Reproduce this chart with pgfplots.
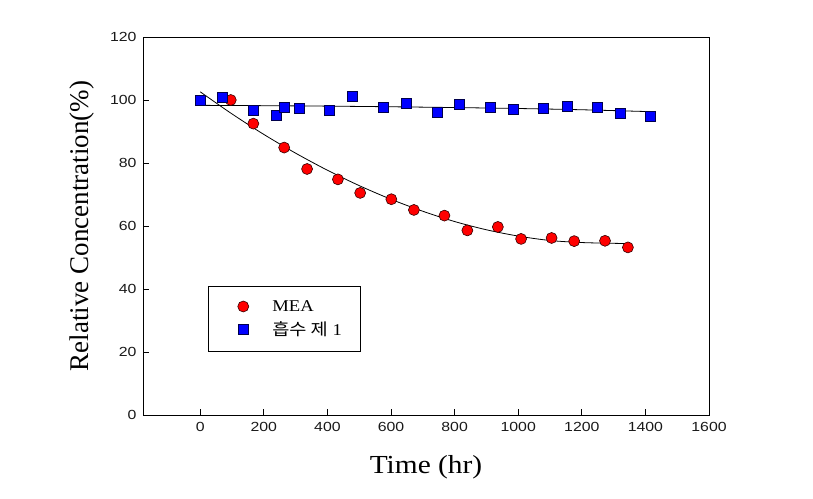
\documentclass[border=0pt]{standalone}
\usepackage{fontspec}
\setmainfont[FakeStretch=1.13]{Liberation Serif}
\newfontfamily\serifplain{Liberation Serif}
\newfontfamily\arial[FakeStretch=1.2]{Liberation Sans}
\newfontfamily\kr[FakeStretch=1.13]{Noto Sans CJK KR}
\usepackage{pgfplots}
\pgfplotsset{compat=1.18}
\pgfplotsset{myleg/.style={legend image code/.code={\path[draw=none] (0pt,0pt) -- (30pt,0pt); \draw[##1] plot coordinates {(19pt,0pt)};}}}
\begin{document}
\begin{tikzpicture}[x=1pt,y=1pt]
\path[use as bounding box] (0,0) rectangle (813,498);
\begin{axis}[
  at={(143pt,83pt)}, anchor=south west,
  scale only axis, width=566pt, height=378pt,
  xmin=-180, xmax=1600, ymin=0, ymax=120,
  xtick={0,200,...,1600}, ytick={0,20,...,120},
  tick align=inside, xtick pos=bottom, ytick pos=left,
  major tick length=6pt,
  axis line style={line width=0.9pt},
  tick style={black, line width=0.8pt},
  /pgf/number format/assume math mode=true,
  /pgf/number format/set thousands separator={},
  tick label style={font=\arial\fontsize{13.2}{13.2}\selectfont, color=black!90},
  xticklabel style={yshift=-4pt},
  yticklabel style={xshift=-3pt},
  xlabel={Time (hr)},
  ylabel={Relative Concentration(\%)},
  xlabel style={at={(axis description cs:0.5,-0.1376)}, anchor=center, font=\fontsize{26}{26}\selectfont},
  ylabel style={at={(axis description cs:-0.1078,0.5)}, anchor=center, font=\serifplain\fontsize{27}{27}\selectfont},
  legend style={at={(axis description cs:0.1148,0.3413)}, anchor=north west, draw=black, line width=0.6pt,
    font=\fontsize{16.5}{16.5}\selectfont, inner xsep=16pt, inner ysep=12pt, row sep=5pt, fill=white,
    /tikz/every odd column/.append style={column sep=16pt}},
  legend cell align=left,
]
\addplot[only marks, mark=*, mark size=5.5pt, mark options={fill=red, draw=black!80!red, line width=0.6pt}, myleg] coordinates {
(96,100.0) (167,92.5) (264,84.9) (336,78.1) (433,74.8) (503,70.5) (601,68.5) (672,65.1)
(768,63.3) (840,58.6) (936,59.7) (1009,55.9) (1105,56.2) (1176,55.2) (1273,55.3) (1345,53.2)
};
\addlegendentry{MEA}
\addplot[only marks, mark=square*, mark size=5pt, mark options={fill=blue, draw=black!70!blue, line width=0.6pt}, myleg] coordinates {
(0,100.0) (70,100.9) (167,96.7) (238,95.1) (264,97.8) (313,97.5) (407,96.7) (479,101.3)
(576,97.8) (648,99.0) (744,96.2) (816,98.7) (911,97.7) (985,97.0) (1080,97.4) (1153,98.1)
(1248,97.7) (1321,95.8) (1416,94.8)
};
\addlegendentry{{\kr 흡수 제} 1}
\addplot[black, line width=0.8pt, smooth, forget plot] coordinates {
(0,102.6) (100,95.57) (200,89.07) (300,83.12) (400,77.70) (500,72.82) (600,68.48) (700,64.68)
(800,61.42) (900,58.80) (1000,56.80) (1100,55.40) (1200,54.75) (1300,54.5) (1345,54.45)
};
\addplot[black, line width=0.8pt, smooth, forget plot] coordinates {
(0,98.3) (200,98.2) (400,98.05) (600,97.85) (800,97.6) (1000,97.3) (1200,96.9) (1416,96.3)
};
\end{axis}
\end{tikzpicture}
\end{document}
